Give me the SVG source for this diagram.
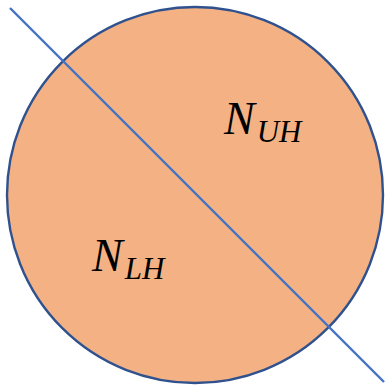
<svg xmlns="http://www.w3.org/2000/svg" width="385" height="387" viewBox="0 0 385 387">
<style>
.lbl{font-family:"Liberation Serif","DejaVu Serif",serif;font-style:italic;fill:#000}
.big{font-size:46px}
.sub{font-size:31px}
</style>
<rect width="385" height="387" fill="#fff"/>
<g id="circle">
<circle cx="195" cy="195" r="188" fill="#F4B183" stroke="#2F528F" stroke-width="2.4"/>
</g>
<g id="connectors">
<line x1="10" y1="8" x2="384" y2="382" stroke="#4472C4" stroke-width="2.4"/>
</g>
<g id="uh">
<text class="lbl" x="224" y="134"><tspan class="big">N</tspan><tspan class="sub" dx="2" dy="8">UH</tspan></text>
</g>
<g id="lh">
<text class="lbl" x="92" y="271"><tspan class="big">N</tspan><tspan class="sub" dx="2" dy="8">LH</tspan></text>
</g>
</svg>
